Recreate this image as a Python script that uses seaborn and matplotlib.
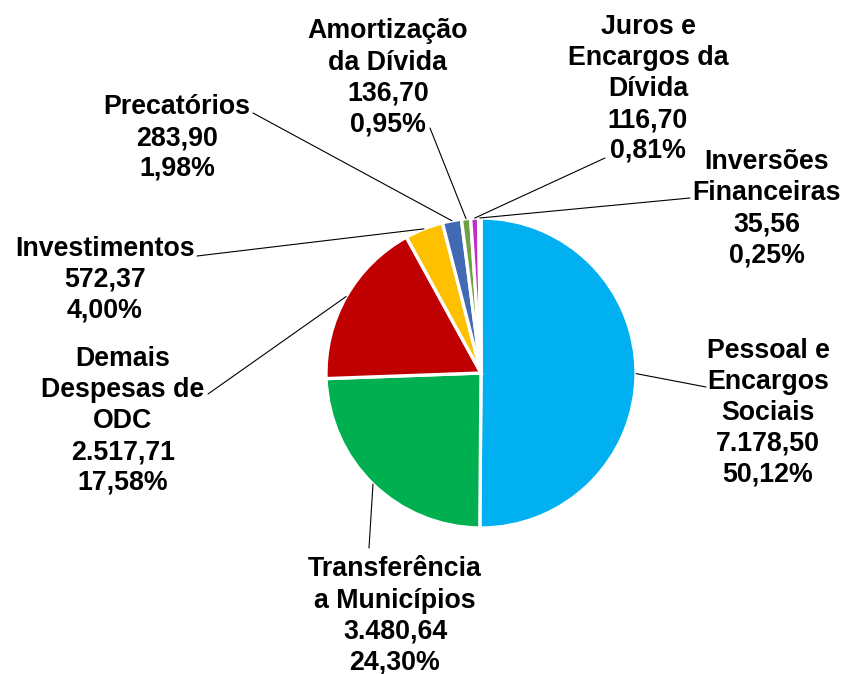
import numpy as np
import matplotlib
matplotlib.use("Agg")
import matplotlib.pyplot as plt
import seaborn as sns

## data
categories = ["Pessoal e\nEncargos\nSociais", "Transferência\na Municípios",
              "Demais\nDespesas de\nODC", "Investimentos", "Precatórios",
              "Amortização\nda Dívida", "Juros e\nEncargos da\nDívida",
              "Inversões\nFinanceiras"]
values = [7178.50, 3480.64, 2517.71, 572.37, 283.90, 136.70, 116.70, 35.56]
colors = ["#00B0F0", "#00B050", "#C00000", "#FFC000", "#4169B4",
          "#6FA046", "#C030C8", "#7030A0"]

# label block centres and leader-line ends (pixels, y down)
label_pos = [(768, 413), (395, 616), (123, 421), (105, 280), (177, 138),
             (388, 78), (648, 89), (767, 209)]
line_end = [(706, 387), (369, 548), (208, 394), (197, 256), (253, 113),
            (430, 128), (605, 158), (690, 198)]

sns.set_theme(style="white")
plt.rcParams["font.family"] = ["Liberation Sans", "DejaVu Sans"]

W, H = 845, 674
fig = plt.figure(figsize=(W / 100, H / 100), dpi=100)
ax = fig.add_axes([0, 0, 1, 1])

cx, cy, r = 481, H - 373, 155
wedges, _ = ax.pie(values, colors=colors, startangle=90, counterclock=False,
                   center=(cx, cy), radius=r, frame=True,
                   wedgeprops=dict(edgecolor="white", linewidth=2.4))
ax.set_xlim(0, W)
ax.set_ylim(0, H)
ax.axis("off")

total = sum(values)


def br(v):
    s = f"{v:,.2f}"
    return s.replace(",", "X").replace(".", ",").replace("X", ".")


for w, cat, v, (tx, ty), (ex, ey) in zip(wedges, categories, values, label_pos, line_end):
    ang = np.deg2rad((w.theta1 + w.theta2) / 2)
    sx, sy = cx + r * np.cos(ang), cy + r * np.sin(ang)
    ax.plot([sx, ex], [sy, H - ey], color="black", lw=0.8)
    txt = f"{cat}\n{br(v)}\n{br(v / total * 100)}%"
    ax.text(tx, H - ty, txt, ha="center", va="center", fontsize=19.3,
            fontweight="bold", linespacing=1.25, color="black")

plt.savefig("out.png", dpi=100, facecolor="white")
